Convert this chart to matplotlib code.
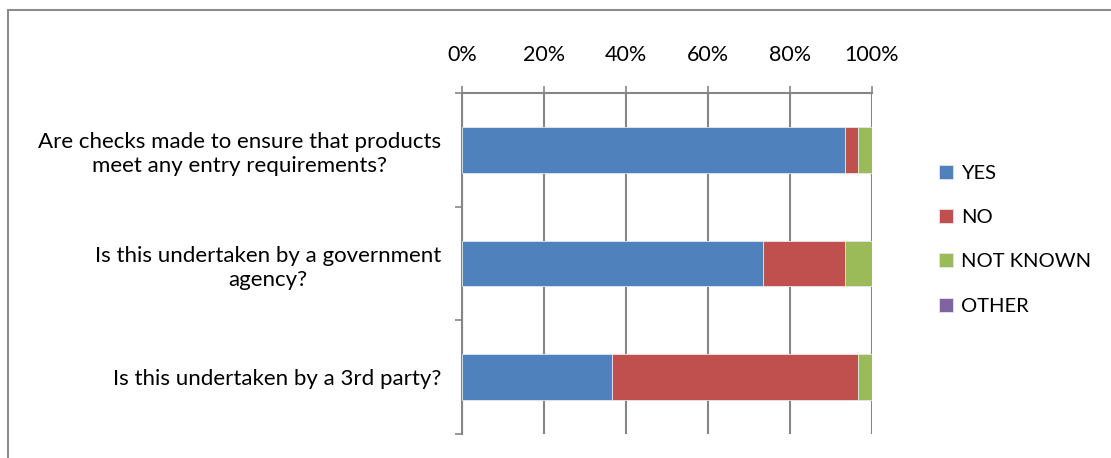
import matplotlib
matplotlib.use("Agg")
import matplotlib.pyplot as plt
from matplotlib.patches import Rectangle
from matplotlib.ticker import FuncFormatter

plt.rcParams['font.family'] = ['Lato', 'DejaVu Sans']

questions = [
    "Are checks made to ensure that products\nmeet any entry requirements?",
    "Is this undertaken by a government\nagency?",
    "Is this undertaken by a 3rd party?",
]
series = ["YES", "NO", "NOT KNOWN", "OTHER"]
yes = [93.3, 73.3, 36.7]
no = [3.3, 20.0, 60.0]
not_known = [3.4, 6.7, 3.3]
other = [0, 0, 0]
colors = ["#4F81BD", "#C0504D", "#9BBB59", "#8064A2"]

W, H = 1111, 458
fig = plt.figure(figsize=(W / 100, H / 100), dpi=100)

# outer chart frame
fig.patches.append(Rectangle((8 / W, -0.1), 1.2, 1 - 10 / H + 0.1,
                             transform=fig.transFigure, fill=False,
                             edgecolor="#8c8c8c", linewidth=1.5))

ax = fig.add_axes([462 / W, 1 - 434 / H, (872 - 462) / W, (434 - 93) / H])

ypos = list(range(len(questions)))
left = [0, 0, 0]
for name, vals, c in zip(series, [yes, no, not_known, other], colors):
    ax.barh(ypos, vals, left=left, height=0.4, color=c, label=name,
            edgecolor="#e6e6e6", linewidth=0.6, zorder=3)
    left = [l + v for l, v in zip(left, vals)]

ax.set_xlim(0, 100)
ax.set_ylim(2.5, -0.5)
ax.set_xticks([0, 20, 40, 60, 80, 100])
ax.xaxis.set_major_formatter(FuncFormatter(lambda v, p: f"{int(v)}%"))
ax.xaxis.tick_top()
ax.tick_params(axis="x", length=5, width=1.2, color="#868686", pad=15,
               labelsize=15.5, labelcolor="black")
ax.grid(axis="x", color="#868686", linewidth=1.5, zorder=0)

ax.set_yticks(ypos)
ax.set_yticklabels(questions, multialignment="center", fontsize=16,
                   linespacing=1.25)
ax.set_yticks([-0.5, 0.5, 1.5, 2.5], minor=True)
ax.tick_params(axis="y", which="major", length=0, pad=15)
ax.tick_params(axis="y", which="minor", length=5, width=1.2, color="#868686")

for s in ["right", "bottom"]:
    ax.spines[s].set_visible(False)
for s in ["left", "top"]:
    ax.spines[s].set_color("#868686")
    ax.spines[s].set_linewidth(1.5)

ax.legend(loc="center left", bbox_to_anchor=(1.12, 0.57), frameon=False,
          fontsize=14.5, handlelength=0.7, handleheight=0.7,
          handletextpad=0.4, labelspacing=1.35)

fig.savefig("out.png", dpi=100)
